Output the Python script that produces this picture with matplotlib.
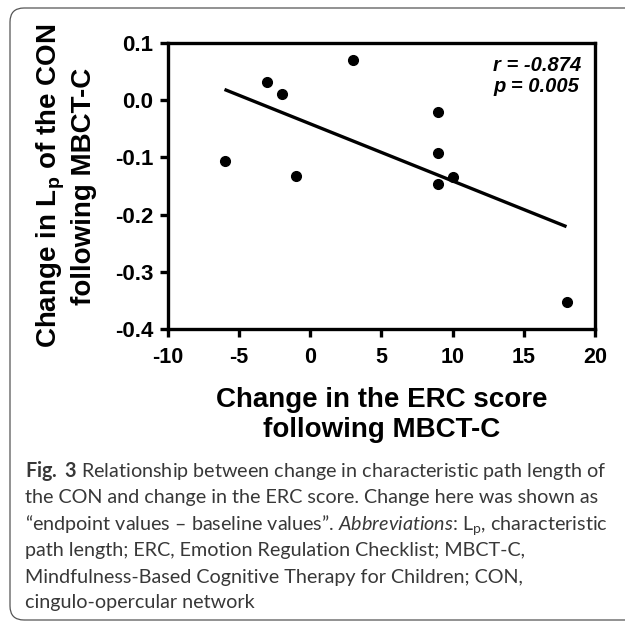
import numpy as np
import matplotlib
matplotlib.use("Agg")
import matplotlib.pyplot as plt
from matplotlib.patches import FancyBboxPatch

# ---------------- data ----------------
erc_change = [-6, -3, -2, -1, 3, 9, 9, 9, 10, 18]
lp_change = [-0.107, 0.033, 0.011, -0.132, 0.070, -0.020, -0.092, -0.146, -0.134, -0.353]
x_ticks = [-10, -5, 0, 5, 10, 15, 20]
y_ticks = [-0.4, -0.3, -0.2, -0.1, 0.0, 0.1]
r_text = "r = -0.874"
p_text = "p = 0.005"
x_label = "Change in the ERC score\nfollowing MBCT-C"
y_label = "Change in L$_{\\mathdefault{p}}$ of the CON\nfollowing MBCT-C"
caption_lines = [
    r"$\mathbf{Fig.\ 3}$ Relationship between change in characteristic path length of",
    "the CON and change in the ERC score. Change here was shown as",
    "\u201cendpoint values \u2013 baseline values\u201d. $\\mathit{Abbreviations}$: L$_{\\mathdefault{p}}$, characteristic",
    "path length; ERC, Emotion Regulation Checklist; MBCT-C,",
    "Mindfulness-Based Cognitive Therapy for Children; CON,",
    "cingulo-opercular network",
]

# ---------------- style ----------------
plt.rcParams["font.family"] = ["Liberation Sans", "DejaVu Sans"]
plt.rcParams["axes.unicode_minus"] = False
plt.rcParams["mathtext.fontset"] = "custom"
plt.rcParams["mathtext.rm"] = "Lato"
plt.rcParams["mathtext.bf"] = "Lato:bold"
plt.rcParams["mathtext.it"] = "Lato:italic"

W, H = 625, 622
fig = plt.figure(figsize=(W / 100, H / 100), dpi=100)

# axes placed in pixel geometry
L, R, T, B = 167.5, 595.0, 43.3, 328.7
ax = fig.add_axes([L / W, 1 - B / H, (R - L) / W, (B - T) / H])

x = np.array(erc_change, dtype=float)
y = np.array(lp_change, dtype=float)
slope, intercept = np.polyfit(x, y, 1)
xf = np.array([x.min(), x.max()])
ax.plot(xf, slope * xf + intercept, color="black", lw=2.4, solid_capstyle="butt")
ax.plot(x, y, "o", color="black", ms=7, clip_on=False)

ax.set_xlim(-10, 20)
ax.set_ylim(-0.4, 0.1)
ax.set_xticks(x_ticks, labels=[str(v) for v in x_ticks], fontsize=15.5, fontweight="bold")
ax.set_yticks(y_ticks, labels=[f"{v:.1f}" for v in y_ticks], fontsize=16, fontweight="bold")
for s in ax.spines.values():
    s.set_linewidth(2.4)
ax.tick_params(axis="both", direction="out", length=6, width=2.4, color="black")
ax.tick_params(axis="x", pad=7.5)
ax.tick_params(axis="y", pad=4)

ax.set_xlabel(x_label, fontsize=20, fontweight="bold", linespacing=1.2)
ax.xaxis.set_label_coords(0.5, (B - 387) / (B - T))
ax.set_ylabel(y_label, fontsize=20, fontweight="bold", va="center", linespacing=1.2)
ax.yaxis.set_label_coords((66 - L) / (R - L), 0.5)

ax.text((493 - L) / (R - L), (B - 71) / (B - T), r_text, transform=ax.transAxes,
        fontsize=14.5, fontweight="bold", fontstyle="italic", va="baseline", ha="left")
ax.text((493 - L) / (R - L), (B - 92) / (B - T), p_text, transform=ax.transAxes,
        fontsize=14.5, fontweight="bold", fontstyle="italic", va="baseline", ha="left")

# ---------------- frame ----------------
frame = FancyBboxPatch((0.10, 0.02), 6.6, 6.12,
                       boxstyle="round,pad=0,rounding_size=0.14",
                       transform=fig.dpi_scale_trans, fill=False,
                       edgecolor="#555555", linewidth=0.9, clip_on=False)
fig.add_artist(frame)

# ---------------- caption ----------------
renderer = fig.canvas.get_renderer()
base_fs = 13.0
probe = fig.text(0, 0, caption_lines[1], family="Lato", fontsize=base_fs)
wpx = probe.get_window_extent(renderer).width
probe.remove()
cap_fs = base_fs * 573.0 / wpx

baselines = [477, 503, 530, 556, 583, 608]
for line, by in zip(caption_lines, baselines):
    fig.text(25 / 100, (H - by) / 100, line, transform=fig.dpi_scale_trans,
             family="Lato", fontsize=cap_fs, color="#383838", va="baseline", ha="left",
             fontweight="normal")

fig.savefig("out.png", dpi=100)
